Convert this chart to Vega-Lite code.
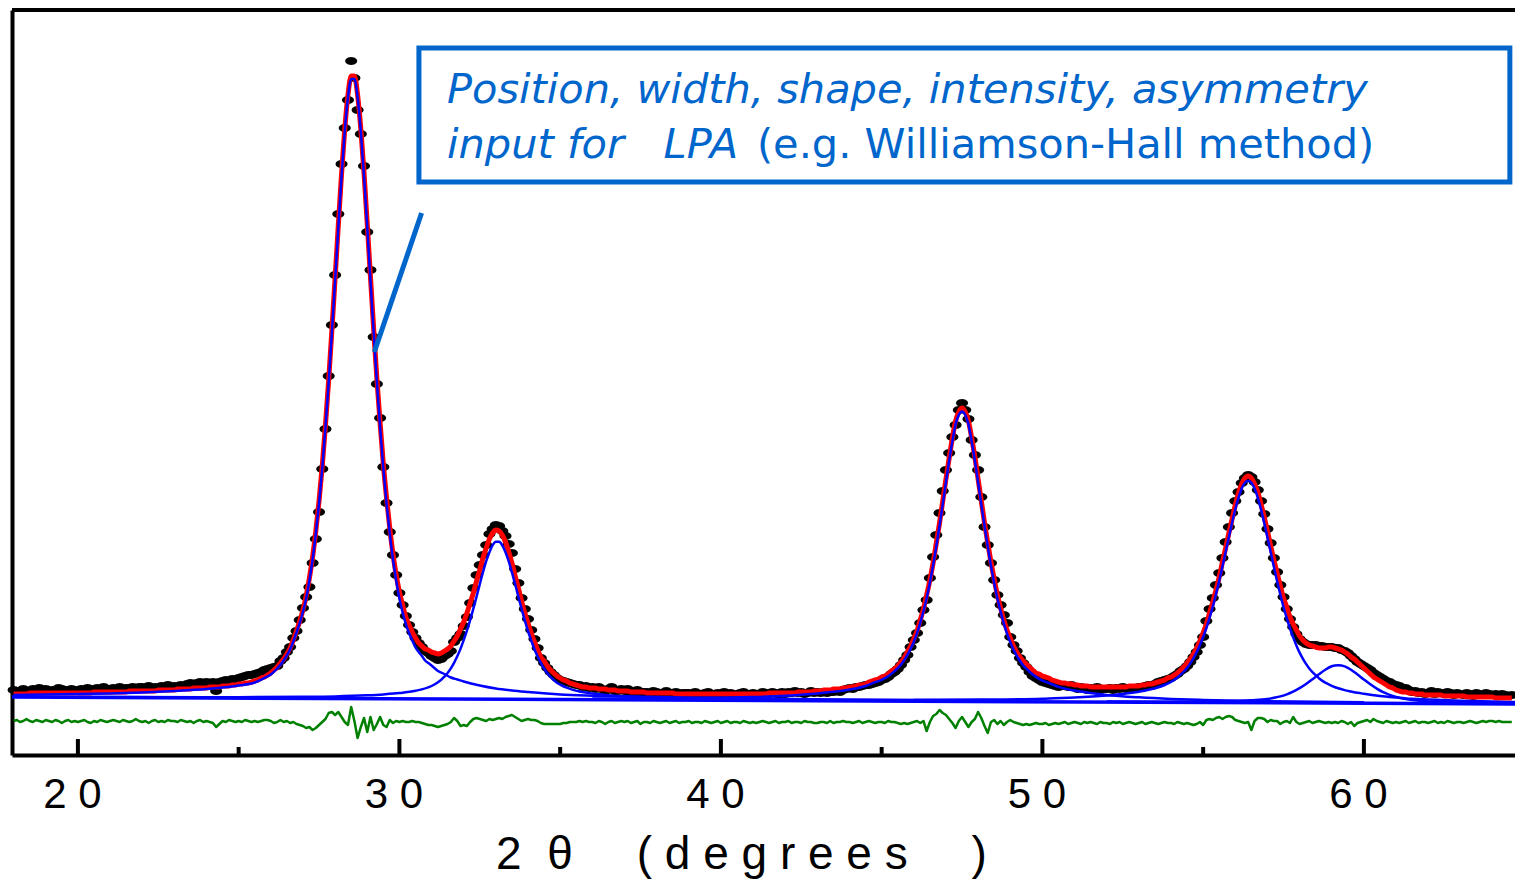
{
"$schema": "https://vega.github.io/schema/vega-lite/v6.json",
"width": 1503,
"height": 745,
"autosize": "none",
"padding": {"left": 12, "top": 10, "right": 0, "bottom": 125},
"background": "white",
"config": {"view": {"stroke": null}, "font": "Liberation Sans"},
"resolve": {"axis": {"x": "independent", "y": "independent"}},
"datasets": {
"main": [
{"x":18.0,"o":65,"f":61,"d":34},{"x":18.1,"o":64,"f":61,"d":35},{"x":18.2,"o":63,"f":61,"d":33},{"x":18.3,"o":66,"f":61,"d":34},{"x":18.4,"o":64,"f":61,"d":36},{"x":18.5,"o":64,"f":62,"d":34},{"x":18.6,"o":66,"f":62,"d":33},{"x":18.7,"o":65,"f":62,"d":35},{"x":18.8,"o":67,"f":62,"d":34},{"x":18.9,"o":64,"f":62,"d":33},
{"x":19.0,"o":66,"f":62,"d":35},{"x":19.1,"o":64,"f":62,"d":34},{"x":19.2,"o":65,"f":62,"d":33},{"x":19.3,"o":65,"f":62,"d":35},{"x":19.4,"o":67,"f":62,"d":34},{"x":19.5,"o":66,"f":62,"d":32},{"x":19.6,"o":64,"f":62,"d":34},{"x":19.7,"o":65,"f":62,"d":35},{"x":19.8,"o":66,"f":62,"d":33},{"x":19.9,"o":65,"f":62,"d":34},
{"x":20.0,"o":64,"f":62,"d":33},{"x":20.1,"o":66,"f":62,"d":34},{"x":20.2,"o":65,"f":62,"d":35},{"x":20.3,"o":67,"f":62,"d":33},{"x":20.4,"o":65,"f":62,"d":32},{"x":20.5,"o":66,"f":63,"d":34},{"x":20.6,"o":67,"f":63,"d":33},{"x":20.7,"o":65,"f":63,"d":35},{"x":20.8,"o":68,"f":63,"d":34},{"x":20.9,"o":66,"f":63,"d":33},
{"x":21.0,"o":66,"f":63,"d":34},{"x":21.1,"o":67,"f":63,"d":35},{"x":21.2,"o":65,"f":63,"d":34},{"x":21.3,"o":68,"f":63,"d":33},{"x":21.4,"o":66,"f":63,"d":35},{"x":21.5,"o":67,"f":63,"d":34},{"x":21.6,"o":67,"f":64,"d":33},{"x":21.7,"o":68,"f":64,"d":34},{"x":21.8,"o":66,"f":64,"d":36},{"x":21.9,"o":68,"f":64,"d":34},
{"x":22.0,"o":68,"f":64,"d":33},{"x":22.1,"o":67,"f":64,"d":34},{"x":22.2,"o":69,"f":64,"d":32},{"x":22.3,"o":67,"f":64,"d":34},{"x":22.4,"o":68,"f":64,"d":35},{"x":22.5,"o":67,"f":65,"d":33},{"x":22.6,"o":69,"f":65,"d":34},{"x":22.7,"o":68,"f":65,"d":33},{"x":22.8,"o":70,"f":65,"d":35},{"x":22.9,"o":68,"f":65,"d":34},
{"x":23.0,"o":69,"f":65,"d":34},{"x":23.1,"o":68,"f":66,"d":33},{"x":23.2,"o":70,"f":66,"d":35},{"x":23.3,"o":69,"f":66,"d":34},{"x":23.4,"o":71,"f":66,"d":33},{"x":23.5,"o":72,"f":66,"d":34},{"x":23.6,"o":71,"f":67,"d":32},{"x":23.7,"o":72,"f":67,"d":34},{"x":23.8,"o":73,"f":67,"d":35},{"x":23.9,"o":72,"f":67,"d":33},
{"x":24.0,"o":73,"f":67,"d":34},{"x":24.1,"o":72,"f":68,"d":33},{"x":24.2,"o":73,"f":68,"d":32},{"x":24.3,"o":64,"f":68,"d":28},{"x":24.4,"o":73,"f":68,"d":31},{"x":24.5,"o":74,"f":69,"d":34},{"x":24.6,"o":75,"f":69,"d":33},{"x":24.7,"o":74,"f":69,"d":35},{"x":24.8,"o":76,"f":70,"d":34},{"x":24.9,"o":75,"f":70,"d":33},
{"x":25.0,"o":77,"f":71,"d":34},{"x":25.1,"o":78,"f":71,"d":33},{"x":25.2,"o":79,"f":72,"d":35},{"x":25.3,"o":80,"f":72,"d":34},{"x":25.4,"o":80,"f":73,"d":33},{"x":25.5,"o":81,"f":74,"d":34},{"x":25.6,"o":82,"f":75,"d":33},{"x":25.7,"o":83,"f":77,"d":34},{"x":25.8,"o":85,"f":78,"d":35},{"x":25.9,"o":86,"f":80,"d":35},
{"x":26.0,"o":87,"f":82,"d":34},{"x":26.1,"o":88,"f":85,"d":32},{"x":26.2,"o":89,"f":88,"d":33},{"x":26.3,"o":94,"f":92,"d":35},{"x":26.4,"o":97,"f":96,"d":33},{"x":26.5,"o":103,"f":101,"d":34},{"x":26.6,"o":108,"f":107,"d":32},{"x":26.7,"o":117,"f":115,"d":33},{"x":26.8,"o":124,"f":124,"d":31},{"x":26.9,"o":135,"f":134,"d":30},
{"x":27.0,"o":147,"f":145,"d":29},{"x":27.1,"o":158,"f":159,"d":27},{"x":27.2,"o":168,"f":177,"d":28},{"x":27.3,"o":192,"f":198,"d":25},{"x":27.4,"o":216,"f":224,"d":27},{"x":27.5,"o":243,"f":254,"d":30},{"x":27.6,"o":286,"f":289,"d":33},{"x":27.7,"o":326,"f":330,"d":36},{"x":27.8,"o":379,"f":375,"d":42},{"x":27.9,"o":430,"f":425,"d":43},
{"x":28.0,"o":480,"f":477,"d":40},{"x":28.1,"o":541,"f":530,"d":43},{"x":28.2,"o":591,"f":581,"d":38},{"x":28.3,"o":627,"f":626,"d":33},{"x":28.4,"o":655,"f":660,"d":30},{"x":28.5,"o":694,"f":679,"d":48},{"x":28.6,"o":677,"f":679,"d":34},{"x":28.7,"o":645,"f":660,"d":17},{"x":28.8,"o":621,"f":626,"d":28},{"x":28.9,"o":589,"f":582,"d":37},
{"x":29.0,"o":523,"f":531,"d":23},{"x":29.1,"o":485,"f":478,"d":38},{"x":29.2,"o":418,"f":426,"d":25},{"x":29.3,"o":371,"f":376,"d":31},{"x":29.4,"o":337,"f":332,"d":38},{"x":29.5,"o":288,"f":291,"d":30},{"x":29.6,"o":252,"f":257,"d":28},{"x":29.7,"o":223,"f":227,"d":35},{"x":29.8,"o":200,"f":201,"d":32},{"x":29.9,"o":180,"f":180,"d":34},
{"x":30.0,"o":162,"f":163,"d":33},{"x":30.1,"o":150,"f":150,"d":34},{"x":30.2,"o":139,"f":138,"d":33},{"x":30.3,"o":130,"f":130,"d":33},{"x":30.4,"o":123,"f":123,"d":34},{"x":30.5,"o":117,"f":117,"d":33},{"x":30.6,"o":112,"f":112,"d":33},{"x":30.7,"o":108,"f":109,"d":32},{"x":30.8,"o":104,"f":106,"d":31},{"x":30.9,"o":102,"f":105,"d":30},
{"x":31.0,"o":99,"f":103,"d":30},{"x":31.1,"o":97,"f":102,"d":29},{"x":31.2,"o":95,"f":101,"d":28},{"x":31.3,"o":96,"f":102,"d":29},{"x":31.4,"o":99,"f":104,"d":30},{"x":31.5,"o":101,"f":106,"d":31},{"x":31.6,"o":104,"f":109,"d":33},{"x":31.7,"o":113,"f":114,"d":37},{"x":31.8,"o":117,"f":119,"d":34},{"x":31.9,"o":121,"f":126,"d":29},
{"x":32.0,"o":129,"f":133,"d":30},{"x":32.1,"o":138,"f":142,"d":29},{"x":32.2,"o":152,"f":152,"d":33},{"x":32.3,"o":167,"f":162,"d":36},{"x":32.4,"o":180,"f":174,"d":37},{"x":32.5,"o":190,"f":185,"d":36},{"x":32.6,"o":200,"f":197,"d":35},{"x":32.7,"o":210,"f":207,"d":34},{"x":32.8,"o":221,"f":216,"d":36},{"x":32.9,"o":226,"f":222,"d":35},
{"x":33.0,"o":230,"f":225,"d":36},{"x":33.1,"o":229,"f":224,"d":37},{"x":33.2,"o":224,"f":220,"d":36},{"x":33.3,"o":219,"f":213,"d":38},{"x":33.4,"o":211,"f":203,"d":39},{"x":33.5,"o":202,"f":192,"d":40},{"x":33.6,"o":186,"f":179,"d":38},{"x":33.7,"o":172,"f":167,"d":36},{"x":33.8,"o":157,"f":154,"d":34},{"x":33.9,"o":146,"f":142,"d":35},
{"x":34.0,"o":136,"f":132,"d":36},{"x":34.1,"o":125,"f":122,"d":35},{"x":34.2,"o":116,"f":113,"d":35},{"x":34.3,"o":107,"f":105,"d":34},{"x":34.4,"o":97,"f":98,"d":32},{"x":34.5,"o":92,"f":94,"d":31},{"x":34.6,"o":87,"f":89,"d":31},{"x":34.7,"o":83,"f":85,"d":31},{"x":34.8,"o":80,"f":82,"d":31},{"x":34.9,"o":77,"f":79,"d":31},
{"x":35.0,"o":75,"f":77,"d":31},{"x":35.1,"o":74,"f":75,"d":32},{"x":35.2,"o":73,"f":74,"d":32},{"x":35.3,"o":72,"f":72,"d":33},{"x":35.4,"o":71,"f":71,"d":33},{"x":35.5,"o":70,"f":70,"d":33},{"x":35.6,"o":70,"f":69,"d":34},{"x":35.7,"o":68,"f":68,"d":33},{"x":35.8,"o":69,"f":68,"d":34},{"x":35.9,"o":67,"f":67,"d":33},
{"x":36.0,"o":68,"f":67,"d":33},{"x":36.1,"o":66,"f":67,"d":32},{"x":36.2,"o":68,"f":66,"d":34},{"x":36.3,"o":66,"f":66,"d":33},{"x":36.4,"o":64,"f":66,"d":31},{"x":36.5,"o":66,"f":65,"d":33},{"x":36.6,"o":68,"f":65,"d":34},{"x":36.7,"o":64,"f":65,"d":32},{"x":36.8,"o":64,"f":64,"d":33},{"x":36.9,"o":66,"f":64,"d":34},
{"x":37.0,"o":64,"f":64,"d":33},{"x":37.1,"o":66,"f":64,"d":34},{"x":37.2,"o":62,"f":63,"d":32},{"x":37.3,"o":64,"f":63,"d":33},{"x":37.4,"o":65,"f":63,"d":34},{"x":37.5,"o":61,"f":63,"d":31},{"x":37.6,"o":63,"f":63,"d":33},{"x":37.7,"o":63,"f":62,"d":33},{"x":37.8,"o":61,"f":62,"d":32},{"x":37.9,"o":64,"f":62,"d":34},
{"x":38.0,"o":63,"f":62,"d":33},{"x":38.1,"o":61,"f":62,"d":32},{"x":38.2,"o":62,"f":62,"d":33},{"x":38.3,"o":64,"f":62,"d":34},{"x":38.4,"o":60,"f":62,"d":32},{"x":38.5,"o":62,"f":62,"d":33},{"x":38.6,"o":63,"f":61,"d":34},{"x":38.7,"o":60,"f":61,"d":32},{"x":38.8,"o":62,"f":61,"d":33},{"x":38.9,"o":62,"f":61,"d":33},
{"x":39.0,"o":62,"f":61,"d":34},{"x":39.1,"o":60,"f":61,"d":32},{"x":39.2,"o":63,"f":61,"d":33},{"x":39.3,"o":61,"f":61,"d":33},{"x":39.4,"o":60,"f":61,"d":32},{"x":39.5,"o":62,"f":61,"d":34},{"x":39.6,"o":63,"f":61,"d":33},{"x":39.7,"o":61,"f":61,"d":32},{"x":39.8,"o":59,"f":61,"d":33},{"x":39.9,"o":62,"f":61,"d":34},
{"x":40.0,"o":61,"f":61,"d":32},{"x":40.1,"o":63,"f":61,"d":33},{"x":40.2,"o":60,"f":61,"d":34},{"x":40.3,"o":62,"f":61,"d":32},{"x":40.4,"o":61,"f":61,"d":33},{"x":40.5,"o":60,"f":61,"d":33},{"x":40.6,"o":62,"f":61,"d":32},{"x":40.7,"o":63,"f":61,"d":34},{"x":40.8,"o":61,"f":61,"d":33},{"x":40.9,"o":60,"f":61,"d":32},
{"x":41.0,"o":62,"f":61,"d":33},{"x":41.1,"o":60,"f":61,"d":32},{"x":41.2,"o":61,"f":61,"d":33},{"x":41.3,"o":63,"f":61,"d":34},{"x":41.4,"o":62,"f":61,"d":33},{"x":41.5,"o":61,"f":62,"d":32},{"x":41.6,"o":63,"f":62,"d":33},{"x":41.7,"o":62,"f":62,"d":34},{"x":41.8,"o":60,"f":62,"d":32},{"x":41.9,"o":63,"f":62,"d":33},
{"x":42.0,"o":61,"f":62,"d":33},{"x":42.1,"o":63,"f":62,"d":34},{"x":42.2,"o":62,"f":62,"d":32},{"x":42.3,"o":64,"f":62,"d":33},{"x":42.4,"o":62,"f":63,"d":33},{"x":42.5,"o":63,"f":63,"d":32},{"x":42.6,"o":61,"f":63,"d":34},{"x":42.7,"o":62,"f":63,"d":33},{"x":42.8,"o":64,"f":63,"d":33},{"x":42.9,"o":62,"f":64,"d":32},
{"x":43.0,"o":63,"f":64,"d":32},{"x":43.1,"o":62,"f":64,"d":33},{"x":43.2,"o":63,"f":65,"d":33},{"x":43.3,"o":62,"f":65,"d":32},{"x":43.4,"o":63,"f":65,"d":34},{"x":43.5,"o":63,"f":66,"d":32},{"x":43.6,"o":64,"f":66,"d":33},{"x":43.7,"o":63,"f":66,"d":33},{"x":43.8,"o":65,"f":67,"d":34},{"x":43.9,"o":66,"f":67,"d":33},
{"x":44.0,"o":67,"f":68,"d":33},{"x":44.1,"o":66,"f":68,"d":32},{"x":44.2,"o":68,"f":69,"d":33},{"x":44.3,"o":68,"f":70,"d":34},{"x":44.4,"o":69,"f":70,"d":32},{"x":44.5,"o":70,"f":71,"d":33},{"x":44.6,"o":70,"f":73,"d":34},{"x":44.7,"o":71,"f":74,"d":33},{"x":44.8,"o":72,"f":75,"d":32},{"x":44.9,"o":73,"f":76,"d":33},
{"x":45.0,"o":75,"f":78,"d":33},{"x":45.1,"o":76,"f":79,"d":32},{"x":45.2,"o":78,"f":81,"d":34},{"x":45.3,"o":81,"f":84,"d":33},{"x":45.4,"o":83,"f":86,"d":33},{"x":45.5,"o":86,"f":89,"d":32},{"x":45.6,"o":90,"f":93,"d":31},{"x":45.7,"o":95,"f":97,"d":32},{"x":45.8,"o":100,"f":103,"d":31},{"x":45.9,"o":108,"f":109,"d":32},
{"x":46.0,"o":115,"f":116,"d":33},{"x":46.1,"o":122,"f":124,"d":34},{"x":46.2,"o":132,"f":135,"d":32},{"x":46.3,"o":145,"f":146,"d":34},{"x":46.4,"o":155,"f":160,"d":24},{"x":46.5,"o":177,"f":175,"d":33},{"x":46.6,"o":198,"f":192,"d":39},{"x":46.7,"o":220,"f":212,"d":41},{"x":46.8,"o":242,"f":232,"d":45},{"x":46.9,"o":264,"f":254,"d":42},
{"x":47.0,"o":285,"f":276,"d":40},{"x":47.1,"o":302,"f":297,"d":36},{"x":47.2,"o":318,"f":317,"d":32},{"x":47.3,"o":330,"f":334,"d":27},{"x":47.4,"o":345,"f":343,"d":34},{"x":47.5,"o":352,"f":347,"d":38},{"x":47.6,"o":345,"f":343,"d":33},{"x":47.7,"o":336,"f":334,"d":28},{"x":47.8,"o":315,"f":317,"d":33},{"x":47.9,"o":300,"f":298,"d":36},
{"x":48.0,"o":285,"f":276,"d":43},{"x":48.1,"o":258,"f":254,"d":37},{"x":48.2,"o":228,"f":232,"d":29},{"x":48.3,"o":210,"f":212,"d":22},{"x":48.4,"o":192,"f":193,"d":33},{"x":48.5,"o":175,"f":176,"d":35},{"x":48.6,"o":160,"f":160,"d":31},{"x":48.7,"o":150,"f":147,"d":34},{"x":48.8,"o":140,"f":135,"d":30},{"x":48.9,"o":132,"f":125,"d":33},
{"x":49.0,"o":118,"f":117,"d":35},{"x":49.1,"o":110,"f":109,"d":33},{"x":49.2,"o":104,"f":103,"d":32},{"x":49.3,"o":97,"f":98,"d":31},{"x":49.4,"o":92,"f":94,"d":30},{"x":49.5,"o":88,"f":91,"d":31},{"x":49.6,"o":83,"f":88,"d":30},{"x":49.7,"o":79,"f":85,"d":31},{"x":49.8,"o":77,"f":82,"d":32},{"x":49.9,"o":75,"f":81,"d":31},
{"x":50.0,"o":73,"f":79,"d":31},{"x":50.1,"o":72,"f":78,"d":32},{"x":50.2,"o":71,"f":77,"d":30},{"x":50.3,"o":70,"f":75,"d":31},{"x":50.4,"o":69,"f":74,"d":32},{"x":50.5,"o":68,"f":73,"d":31},{"x":50.6,"o":70,"f":72,"d":32},{"x":50.7,"o":69,"f":72,"d":33},{"x":50.8,"o":68,"f":71,"d":31},{"x":50.9,"o":70,"f":71,"d":32},
{"x":51.0,"o":68,"f":70,"d":33},{"x":51.1,"o":66,"f":70,"d":32},{"x":51.2,"o":68,"f":69,"d":31},{"x":51.3,"o":67,"f":69,"d":33},{"x":51.4,"o":65,"f":69,"d":32},{"x":51.5,"o":67,"f":68,"d":33},{"x":51.6,"o":66,"f":68,"d":32},{"x":51.7,"o":68,"f":68,"d":31},{"x":51.8,"o":65,"f":68,"d":33},{"x":51.9,"o":66,"f":68,"d":32},
{"x":52.0,"o":66,"f":68,"d":32},{"x":52.1,"o":67,"f":68,"d":31},{"x":52.2,"o":65,"f":68,"d":33},{"x":52.3,"o":67,"f":68,"d":32},{"x":52.4,"o":66,"f":68,"d":33},{"x":52.5,"o":68,"f":68,"d":31},{"x":52.6,"o":66,"f":68,"d":32},{"x":52.7,"o":65,"f":69,"d":33},{"x":52.8,"o":67,"f":69,"d":32},{"x":52.9,"o":66,"f":69,"d":31},
{"x":53.0,"o":68,"f":69,"d":32},{"x":53.1,"o":68,"f":70,"d":33},{"x":53.2,"o":69,"f":70,"d":31},{"x":53.3,"o":70,"f":71,"d":32},{"x":53.4,"o":69,"f":71,"d":33},{"x":53.5,"o":71,"f":72,"d":32},{"x":53.6,"o":73,"f":73,"d":31},{"x":53.7,"o":74,"f":74,"d":32},{"x":53.8,"o":75,"f":75,"d":33},{"x":53.9,"o":76,"f":77,"d":32},
{"x":54.0,"o":77,"f":78,"d":32},{"x":54.1,"o":79,"f":80,"d":31},{"x":54.2,"o":81,"f":82,"d":33},{"x":54.3,"o":84,"f":85,"d":32},{"x":54.4,"o":86,"f":88,"d":31},{"x":54.5,"o":89,"f":92,"d":32},{"x":54.6,"o":93,"f":96,"d":31},{"x":54.7,"o":98,"f":101,"d":30},{"x":54.8,"o":103,"f":107,"d":31},{"x":54.9,"o":110,"f":114,"d":33},
{"x":55.0,"o":118,"f":122,"d":30},{"x":55.1,"o":134,"f":131,"d":35},{"x":55.2,"o":146,"f":142,"d":36},{"x":55.3,"o":157,"f":153,"d":35},{"x":55.4,"o":170,"f":165,"d":37},{"x":55.5,"o":182,"f":178,"d":38},{"x":55.6,"o":197,"f":193,"d":36},{"x":55.7,"o":213,"f":207,"d":38},{"x":55.8,"o":228,"f":222,"d":39},{"x":55.9,"o":242,"f":236,"d":38},
{"x":56.0,"o":254,"f":250,"d":35},{"x":56.1,"o":263,"f":262,"d":34},{"x":56.2,"o":272,"f":271,"d":33},{"x":56.3,"o":277,"f":277,"d":32},{"x":56.4,"o":280,"f":279,"d":33},{"x":56.5,"o":278,"f":277,"d":25},{"x":56.6,"o":273,"f":271,"d":34},{"x":56.7,"o":265,"f":263,"d":37},{"x":56.8,"o":254,"f":251,"d":37},{"x":56.9,"o":241,"f":238,"d":36},
{"x":57.0,"o":226,"f":224,"d":33},{"x":57.1,"o":212,"f":209,"d":35},{"x":57.2,"o":197,"f":195,"d":34},{"x":57.3,"o":183,"f":182,"d":34},{"x":57.4,"o":170,"f":169,"d":31},{"x":57.5,"o":158,"f":157,"d":33},{"x":57.6,"o":146,"f":148,"d":34},{"x":57.7,"o":136,"f":138,"d":32},{"x":57.8,"o":128,"f":131,"d":38},{"x":57.9,"o":121,"f":125,"d":33},
{"x":58.0,"o":116,"f":119,"d":31},{"x":58.1,"o":113,"f":115,"d":32},{"x":58.2,"o":111,"f":112,"d":33},{"x":58.3,"o":110,"f":110,"d":34},{"x":58.4,"o":110,"f":109,"d":32},{"x":58.5,"o":110,"f":108,"d":33},{"x":58.6,"o":109,"f":107,"d":34},{"x":58.7,"o":109,"f":107,"d":33},{"x":58.8,"o":108,"f":107,"d":32},{"x":58.9,"o":108,"f":108,"d":33},
{"x":59.0,"o":108,"f":108,"d":32},{"x":59.1,"o":107,"f":107,"d":33},{"x":59.2,"o":107,"f":106,"d":32},{"x":59.3,"o":105,"f":105,"d":34},{"x":59.4,"o":104,"f":103,"d":33},{"x":59.5,"o":102,"f":101,"d":31},{"x":59.6,"o":99,"f":98,"d":33},{"x":59.7,"o":96,"f":96,"d":29},{"x":59.8,"o":93,"f":93,"d":32},{"x":59.9,"o":91,"f":90,"d":33},
{"x":60.0,"o":89,"f":87,"d":34},{"x":60.1,"o":87,"f":84,"d":35},{"x":60.2,"o":85,"f":81,"d":33},{"x":60.3,"o":82,"f":78,"d":36},{"x":60.4,"o":80,"f":76,"d":34},{"x":60.5,"o":78,"f":74,"d":33},{"x":60.6,"o":76,"f":72,"d":32},{"x":60.7,"o":74,"f":70,"d":34},{"x":60.8,"o":73,"f":68,"d":33},{"x":60.9,"o":71,"f":67,"d":32},
{"x":61.0,"o":70,"f":65,"d":33},{"x":61.1,"o":69,"f":64,"d":32},{"x":61.2,"o":66,"f":63,"d":33},{"x":61.3,"o":67,"f":63,"d":34},{"x":61.4,"o":65,"f":62,"d":32},{"x":61.5,"o":63,"f":62,"d":33},{"x":61.6,"o":64,"f":61,"d":34},{"x":61.7,"o":62,"f":61,"d":32},{"x":61.8,"o":63,"f":61,"d":33},{"x":61.9,"o":61,"f":60,"d":33},
{"x":62.0,"o":62,"f":60,"d":32},{"x":62.1,"o":64,"f":60,"d":33},{"x":62.2,"o":61,"f":60,"d":34},{"x":62.3,"o":63,"f":60,"d":32},{"x":62.4,"o":62,"f":60,"d":33},{"x":62.5,"o":61,"f":59,"d":32},{"x":62.6,"o":63,"f":59,"d":34},{"x":62.7,"o":62,"f":59,"d":33},{"x":62.8,"o":60,"f":59,"d":32},{"x":62.9,"o":62,"f":59,"d":33},
{"x":63.0,"o":61,"f":59,"d":33},{"x":63.1,"o":60,"f":59,"d":32},{"x":63.2,"o":62,"f":58,"d":33},{"x":63.3,"o":61,"f":58,"d":34},{"x":63.4,"o":59,"f":58,"d":33},{"x":63.5,"o":62,"f":58,"d":32},{"x":63.6,"o":61,"f":58,"d":33},{"x":63.7,"o":60,"f":58,"d":34},{"x":63.8,"o":62,"f":58,"d":33},{"x":63.9,"o":61,"f":58,"d":34},
{"x":64.0,"o":60,"f":58,"d":34},{"x":64.1,"o":61,"f":57,"d":33},{"x":64.2,"o":59,"f":57,"d":34},{"x":64.3,"o":61,"f":57,"d":33},{"x":64.4,"o":60,"f":57,"d":33},{"x":64.5,"o":59,"f":57,"d":33},{"x":64.6,"o":60,"f":57,"d":33}
],
"comp": [
{"x":18.0,"k":"p1","y":60},{"x":19.0,"k":"p1","y":60.5},{"x":20.0,"k":"p1","y":61},{"x":21.0,"k":"p1","y":61.5},{"x":22.0,"k":"p1","y":62.5},{"x":23.0,"k":"p1","y":64},{"x":24.0,"k":"p1","y":66},{"x":24.5,"k":"p1","y":67.5},{"x":25.0,"k":"p1","y":69.5},{"x":25.5,"k":"p1","y":72.5},{"x":25.8,"k":"p1","y":77},{"x":26.0,"k":"p1","y":80.5},{"x":26.2,"k":"p1","y":86.5},{"x":26.4,"k":"p1","y":94.5},{"x":26.6,"k":"p1","y":105.5},{"x":26.8,"k":"p1","y":122.5},{"x":27.0,"k":"p1","y":143},{"x":27.1,"k":"p1","y":156.5},{"x":27.2,"k":"p1","y":174.5},{"x":27.3,"k":"p1","y":195.5},{"x":27.4,"k":"p1","y":221.5},{"x":27.5,"k":"p1","y":251.5},{"x":27.6,"k":"p1","y":286.5},{"x":27.7,"k":"p1","y":327.5},{"x":27.8,"k":"p1","y":372.5},{"x":27.9,"k":"p1","y":422.5},{"x":28.0,"k":"p1","y":474.5},{"x":28.1,"k":"p1","y":527.5},{"x":28.2,"k":"p1","y":578.5},{"x":28.3,"k":"p1","y":623.5},{"x":28.4,"k":"p1","y":657.5},{"x":28.5,"k":"p1","y":676},{"x":28.6,"k":"p1","y":676},{"x":28.7,"k":"p1","y":657.5},{"x":28.8,"k":"p1","y":623.5},{"x":28.9,"k":"p1","y":578.5},{"x":29.0,"k":"p1","y":527.5},{"x":29.1,"k":"p1","y":474.5},{"x":29.2,"k":"p1","y":422.5},{"x":29.3,"k":"p1","y":372.5},{"x":29.4,"k":"p1","y":327.5},{"x":29.5,"k":"p1","y":286.5},{"x":29.6,"k":"p1","y":251.5},{"x":29.7,"k":"p1","y":221.5},{"x":29.8,"k":"p1","y":195.5},{"x":29.9,"k":"p1","y":174.5},{"x":30.0,"k":"p1","y":156.5},{"x":30.1,"k":"p1","y":142.5},{"x":30.2,"k":"p1","y":131},{"x":30.3,"k":"p1","y":122},{"x":30.4,"k":"p1","y":114.5},{"x":30.5,"k":"p1","y":107.5},{"x":30.6,"k":"p1","y":103},{"x":30.7,"k":"p1","y":99},{"x":30.8,"k":"p1","y":94.5},{"x":30.9,"k":"p1","y":92},{"x":31.0,"k":"p1","y":89.5},{"x":31.2,"k":"p1","y":84},{"x":31.4,"k":"p1","y":81},{"x":31.6,"k":"p1","y":77.5},{"x":31.8,"k":"p1","y":75.5},{"x":32.0,"k":"p1","y":73.5},{"x":32.5,"k":"p1","y":69.5},{"x":33.0,"k":"p1","y":66.5},{"x":33.5,"k":"p1","y":64.5},{"x":34.0,"k":"p1","y":63},{"x":35.0,"k":"p1","y":60.5},{"x":36.0,"k":"p1","y":59.3},{"x":37.0,"k":"p1","y":58.5},{"x":38.0,"k":"p1","y":57.9},{"x":40.0,"k":"p1","y":56.9},{"x":44.0,"k":"p1","y":55.5},{"x":48.0,"k":"p1","y":54.6},
{"x":20.0,"k":"p2","y":58.1},{"x":24.0,"k":"p2","y":57.8},{"x":27.0,"k":"p2","y":58.2},{"x":28.0,"k":"p2","y":58.6},{"x":29.0,"k":"p2","y":59.7},{"x":29.5,"k":"p2","y":60.6},{"x":30.0,"k":"p2","y":61.9},{"x":30.5,"k":"p2","y":64.2},{"x":31.0,"k":"p2","y":69},{"x":31.2,"k":"p2","y":72.7},{"x":31.4,"k":"p2","y":78.4},{"x":31.5,"k":"p2","y":82.1},{"x":31.6,"k":"p2","y":86.7},{"x":31.7,"k":"p2","y":92.2},{"x":31.8,"k":"p2","y":98.7},{"x":31.9,"k":"p2","y":106.1},{"x":32.0,"k":"p2","y":114.9},{"x":32.1,"k":"p2","y":124.3},{"x":32.2,"k":"p2","y":134.9},{"x":32.3,"k":"p2","y":146.4},{"x":32.4,"k":"p2","y":158.4},{"x":32.5,"k":"p2","y":170.8},{"x":32.6,"k":"p2","y":182.8},{"x":32.7,"k":"p2","y":193.8},{"x":32.8,"k":"p2","y":202.8},{"x":32.9,"k":"p2","y":209.8},{"x":33.0,"k":"p2","y":213.3},{"x":33.1,"k":"p2","y":213.2},{"x":33.2,"k":"p2","y":209.7},{"x":33.3,"k":"p2","y":202.7},{"x":33.4,"k":"p2","y":193.7},{"x":33.5,"k":"p2","y":182.7},{"x":33.6,"k":"p2","y":170.7},{"x":33.7,"k":"p2","y":158.2},{"x":33.8,"k":"p2","y":146.2},{"x":33.9,"k":"p2","y":134.7},{"x":34.0,"k":"p2","y":124},{"x":34.1,"k":"p2","y":114.6},{"x":34.2,"k":"p2","y":105.8},{"x":34.3,"k":"p2","y":98.4},{"x":34.4,"k":"p2","y":91.9},{"x":34.5,"k":"p2","y":86.4},{"x":34.6,"k":"p2","y":81.8},{"x":34.7,"k":"p2","y":78},{"x":34.8,"k":"p2","y":75},{"x":34.9,"k":"p2","y":72.3},{"x":35.0,"k":"p2","y":70.4},{"x":35.2,"k":"p2","y":67.3},{"x":35.4,"k":"p2","y":65.1},{"x":35.6,"k":"p2","y":63.5},{"x":36.0,"k":"p2","y":61.5},{"x":36.5,"k":"p2","y":59.8},{"x":37.0,"k":"p2","y":58.7},{"x":38.0,"k":"p2","y":57.2},{"x":39.0,"k":"p2","y":56.5},{"x":40.0,"k":"p2","y":55.9},{"x":42.0,"k":"p2","y":55.2},{"x":46.0,"k":"p2","y":54.3},
{"x":36.0,"k":"p3","y":56.5},{"x":38.0,"k":"p3","y":56.6},{"x":40.0,"k":"p3","y":57.3},{"x":41.0,"k":"p3","y":58},{"x":42.0,"k":"p3","y":59.3},{"x":43.0,"k":"p3","y":61.5},{"x":43.5,"k":"p3","y":63.2},{"x":44.0,"k":"p3","y":65.4},{"x":44.5,"k":"p3","y":69},{"x":44.8,"k":"p3","y":72.8},{"x":45.0,"k":"p3","y":75.2},{"x":45.2,"k":"p3","y":78.8},{"x":45.4,"k":"p3","y":83.9},{"x":45.5,"k":"p3","y":86.9},{"x":45.6,"k":"p3","y":90.4},{"x":45.7,"k":"p3","y":94.9},{"x":45.8,"k":"p3","y":100},{"x":45.9,"k":"p3","y":106},{"x":46.0,"k":"p3","y":113.3},{"x":46.1,"k":"p3","y":121.8},{"x":46.2,"k":"p3","y":132.1},{"x":46.3,"k":"p3","y":143.8},{"x":46.4,"k":"p3","y":156.8},{"x":46.5,"k":"p3","y":172.4},{"x":46.6,"k":"p3","y":189.4},{"x":46.7,"k":"p3","y":208.7},{"x":46.8,"k":"p3","y":229.2},{"x":46.9,"k":"p3","y":250.7},{"x":47.0,"k":"p3","y":272.7},{"x":47.1,"k":"p3","y":294.4},{"x":47.2,"k":"p3","y":313.6},{"x":47.3,"k":"p3","y":330.6},{"x":47.4,"k":"p3","y":340.1},{"x":47.5,"k":"p3","y":343.6},{"x":47.6,"k":"p3","y":340},{"x":47.7,"k":"p3","y":330.6},{"x":47.8,"k":"p3","y":313.5},{"x":47.9,"k":"p3","y":294.2},{"x":48.0,"k":"p3","y":272.5},{"x":48.1,"k":"p3","y":250.5},{"x":48.2,"k":"p3","y":229},{"x":48.3,"k":"p3","y":208.5},{"x":48.4,"k":"p3","y":189.1},{"x":48.5,"k":"p3","y":172},{"x":48.6,"k":"p3","y":156.4},{"x":48.7,"k":"p3","y":143.4},{"x":48.8,"k":"p3","y":131.7},{"x":48.9,"k":"p3","y":121.4},{"x":49.0,"k":"p3","y":112.9},{"x":49.1,"k":"p3","y":105.5},{"x":49.2,"k":"p3","y":99.4},{"x":49.3,"k":"p3","y":94.3},{"x":49.4,"k":"p3","y":89.8},{"x":49.5,"k":"p3","y":86.3},{"x":49.6,"k":"p3","y":83.3},{"x":49.8,"k":"p3","y":78.1},{"x":50.0,"k":"p3","y":74.4},{"x":50.2,"k":"p3","y":72},{"x":50.5,"k":"p3","y":68.1},{"x":51.0,"k":"p3","y":64.4},{"x":51.5,"k":"p3","y":62},{"x":52.0,"k":"p3","y":60.1},{"x":53.0,"k":"p3","y":57.7},{"x":54.0,"k":"p3","y":56.1},{"x":55.0,"k":"p3","y":55.1},{"x":57.0,"k":"p3","y":53.8},{"x":60.0,"k":"p3","y":52.7},
{"x":46.0,"k":"p4","y":55},{"x":48.0,"k":"p4","y":55.4},{"x":50.0,"k":"p4","y":56.3},{"x":51.0,"k":"p4","y":57.4},{"x":52.0,"k":"p4","y":59.5},{"x":52.5,"k":"p4","y":61.1},{"x":53.0,"k":"p4","y":63.3},{"x":53.5,"k":"p4","y":66.7},{"x":53.8,"k":"p4","y":70},{"x":54.0,"k":"p4","y":73},{"x":54.2,"k":"p4","y":77.5},{"x":54.4,"k":"p4","y":83.5},{"x":54.5,"k":"p4","y":87.1},{"x":54.6,"k":"p4","y":91.6},{"x":54.7,"k":"p4","y":96.9},{"x":54.8,"k":"p4","y":102.9},{"x":54.9,"k":"p4","y":110},{"x":55.0,"k":"p4","y":118},{"x":55.1,"k":"p4","y":127},{"x":55.2,"k":"p4","y":137.3},{"x":55.3,"k":"p4","y":148.3},{"x":55.4,"k":"p4","y":160.9},{"x":55.5,"k":"p4","y":174.1},{"x":55.6,"k":"p4","y":188.5},{"x":55.7,"k":"p4","y":203.1},{"x":55.8,"k":"p4","y":217.8},{"x":55.9,"k":"p4","y":232.2},{"x":56.0,"k":"p4","y":245.7},{"x":56.1,"k":"p4","y":257.3},{"x":56.2,"k":"p4","y":266.5},{"x":56.3,"k":"p4","y":272.3},{"x":56.4,"k":"p4","y":274.3},{"x":56.5,"k":"p4","y":272.3},{"x":56.6,"k":"p4","y":266.4},{"x":56.7,"k":"p4","y":257.2},{"x":56.8,"k":"p4","y":245.6},{"x":56.9,"k":"p4","y":232},{"x":57.0,"k":"p4","y":217.6},{"x":57.1,"k":"p4","y":202.9},{"x":57.2,"k":"p4","y":188.3},{"x":57.3,"k":"p4","y":173.8},{"x":57.4,"k":"p4","y":160.6},{"x":57.5,"k":"p4","y":148},{"x":57.6,"k":"p4","y":136.9},{"x":57.7,"k":"p4","y":126.7},{"x":57.8,"k":"p4","y":117.6},{"x":57.9,"k":"p4","y":109.6},{"x":58.0,"k":"p4","y":102.4},{"x":58.1,"k":"p4","y":96.4},{"x":58.2,"k":"p4","y":91.1},{"x":58.3,"k":"p4","y":86.6},{"x":58.4,"k":"p4","y":82.9},{"x":58.5,"k":"p4","y":79.8},{"x":58.6,"k":"p4","y":76.8},{"x":58.8,"k":"p4","y":72.3},{"x":59.0,"k":"p4","y":69.2},{"x":59.2,"k":"p4","y":66.7},{"x":59.4,"k":"p4","y":64.9},{"x":59.6,"k":"p4","y":63.5},{"x":59.8,"k":"p4","y":62.2},{"x":60.0,"k":"p4","y":61.2},{"x":60.5,"k":"p4","y":59.1},{"x":61.0,"k":"p4","y":57.6},{"x":61.5,"k":"p4","y":56.3},{"x":62.0,"k":"p4","y":55.6},{"x":63.0,"k":"p4","y":54.3},{"x":64.0,"k":"p4","y":53.4},{"x":64.7,"k":"p4","y":52.9},
{"x":52.0,"k":"p5","y":53.4},{"x":54.0,"k":"p5","y":53.3},{"x":55.0,"k":"p5","y":53.5},{"x":56.0,"k":"p5","y":53.9},{"x":56.5,"k":"p5","y":54.7},{"x":57.0,"k":"p5","y":56},{"x":57.2,"k":"p5","y":57.2},{"x":57.4,"k":"p5","y":58.6},{"x":57.6,"k":"p5","y":60.7},{"x":57.8,"k":"p5","y":63.4},{"x":58.0,"k":"p5","y":66.8},{"x":58.2,"k":"p5","y":71},{"x":58.4,"k":"p5","y":75.8},{"x":58.6,"k":"p5","y":80.7},{"x":58.8,"k":"p5","y":85.3},{"x":59.0,"k":"p5","y":88.7},{"x":59.1,"k":"p5","y":89.6},{"x":59.2,"k":"p5","y":89.8},{"x":59.3,"k":"p5","y":89.5},{"x":59.4,"k":"p5","y":88.6},{"x":59.6,"k":"p5","y":85.2},{"x":59.8,"k":"p5","y":80.5},{"x":60.0,"k":"p5","y":75.5},{"x":60.2,"k":"p5","y":70.7},{"x":60.4,"k":"p5","y":66.4},{"x":60.6,"k":"p5","y":62.9},{"x":60.8,"k":"p5","y":60.2},{"x":61.0,"k":"p5","y":58.1},{"x":61.2,"k":"p5","y":56.5},{"x":61.5,"k":"p5","y":55.1},{"x":62.0,"k":"p5","y":53.6},{"x":62.5,"k":"p5","y":52.9},{"x":63.0,"k":"p5","y":52.5},{"x":64.0,"k":"p5","y":51.9},{"x":64.7,"k":"p5","y":51.6}
],
"bgline": [{"x":17.95,"y":58},{"x":64.7,"y":51}],
"ticks": [{"x":20,"b":0,"l":16},{"x":25,"b":0,"l":8},{"x":30,"b":0,"l":16},{"x":35,"b":0,"l":8},{"x":40,"b":0,"l":16},{"x":45,"b":0,"l":8},{"x":50,"b":0,"l":16},{"x":55,"b":0,"l":8},{"x":60,"b":0,"l":16}]
},
"layer": [
{
"data": {"name": "main"},
"mark": {"type": "point", "shape": "M-1,0L-0.87,0.33L-0.5,0.58L0,0.67L0.5,0.58L0.87,0.33L1,0L0.87,-0.33L0.5,-0.58L0,-0.67L-0.5,-0.58L-0.87,-0.33Z", "size": 150, "filled": true, "color": "black", "opacity": 1, "strokeWidth": 0},
"encoding": {
"x": {"field": "x", "type": "quantitative", "scale": {"domain": [17.95, 64.7], "nice": false, "zero": false},
"axis": {"values": [20, 30, 40, 50, 60], "domain": true, "domainColor": "black", "domainWidth": 4, "ticks": false, "grid": false,
"labelExpr": "slice(datum.label,0,1) + ' ' + slice(datum.label,1)", "labelFont": "Liberation Sans", "labelFontSize": 42, "labelColor": "black",
"labelBaseline": "alphabetic", "labelPadding": 52, "labelOffset": -6, "labelFlush": false, "labelOverlap": false,
"title": "2\u00a0\u00a0θ\u00a0\u00a0\u00a0\u00a0\u00a0(\u00a0d\u00a0e\u00a0g\u00a0r\u00a0e\u00a0e\u00a0s\u00a0\u00a0\u00a0\u00a0\u00a0)", "titleFont": "Liberation Sans", "titleFontSize": 46, "titleFontWeight": "normal", "titleColor": "black",
"titleX": 729, "titleY": 113, "titleAlign": "center", "titleBaseline": "alphabetic", "titleAngle": 0}},
"y": {"field": "o", "type": "quantitative", "scale": {"domain": [0, 745], "nice": false, "zero": false},
"axis": {"domain": true, "domainColor": "black", "domainWidth": 4, "ticks": false, "labels": false, "grid": false, "title": null}}
}
},
{
"data": {"name": "main"},
"mark": {"type": "line", "color": "#FF0000", "strokeWidth": 5, "interpolate": "monotone", "strokeJoin": "round"},
"encoding": {
"x": {"field": "x", "type": "quantitative", "scale": {"domain": [17.95, 64.7], "nice": false, "zero": false}, "axis": null},
"y": {"field": "f", "type": "quantitative", "scale": {"domain": [0, 745], "nice": false, "zero": false}, "axis": null}
}
},
{
"data": {"name": "comp"},
"mark": {"type": "line", "color": "#0000FF", "strokeWidth": 2.5, "interpolate": "monotone"},
"encoding": {
"x": {"field": "x", "type": "quantitative", "scale": {"domain": [17.95, 64.7], "nice": false, "zero": false}, "axis": null},
"y": {"field": "y", "type": "quantitative", "scale": {"domain": [0, 745], "nice": false, "zero": false}, "axis": null},
"detail": {"field": "k", "type": "nominal"}
}
},
{
"data": {"name": "bgline"},
"mark": {"type": "line", "color": "#0000FF", "strokeWidth": 3.5},
"encoding": {
"x": {"field": "x", "type": "quantitative", "scale": {"domain": [17.95, 64.7], "nice": false, "zero": false}, "axis": null},
"y": {"field": "y", "type": "quantitative", "scale": {"domain": [0, 745], "nice": false, "zero": false}, "axis": null}
}
},
{
"data": {"name": "main"},
"mark": {"type": "line", "color": "#008000", "strokeWidth": 2.5, "strokeJoin": "round"},
"encoding": {
"x": {"field": "x", "type": "quantitative", "scale": {"domain": [17.95, 64.7], "nice": false, "zero": false}, "axis": null},
"y": {"field": "d", "type": "quantitative", "scale": {"domain": [0, 745], "nice": false, "zero": false}, "axis": null}
}
},
{
"data": {"name": "ticks"},
"mark": {"type": "rule", "color": "black", "strokeWidth": 4},
"encoding": {
"x": {"field": "x", "type": "quantitative", "scale": {"domain": [17.95, 64.7], "nice": false, "zero": false}, "axis": null},
"y": {"field": "b", "type": "quantitative", "scale": {"domain": [0, 745], "nice": false, "zero": false}, "axis": null},
"y2": {"field": "l"}
}
},
{
"data": {"values": [{"v": 745}]},
"mark": {"type": "rule", "color": "black", "strokeWidth": 4},
"encoding": {
"y": {"field": "v", "type": "quantitative", "scale": {"domain": [0, 745], "nice": false, "zero": false}, "axis": null}
}
},
{
"data": {"values": [{"x": 30.607, "x2": 64.54, "y": 707, "y2": 573}]},
"mark": {"type": "rect", "fill": "white", "stroke": "#0066CC", "strokeWidth": 5},
"encoding": {
"x": {"field": "x", "type": "quantitative", "scale": {"domain": [17.95, 64.7], "nice": false, "zero": false}, "axis": null},
"x2": {"field": "x2"},
"y": {"field": "y", "type": "quantitative", "scale": {"domain": [0, 745], "nice": false, "zero": false}, "axis": null},
"y2": {"field": "y2"}
}
},
{
"data": {"values": [{"x": 30.69, "y": 542, "x2": 29.22, "y2": 403}]},
"mark": {"type": "rule", "color": "#0066CC", "strokeWidth": 5},
"encoding": {
"x": {"field": "x", "type": "quantitative", "scale": {"domain": [17.95, 64.7], "nice": false, "zero": false}, "axis": null},
"x2": {"field": "x2"},
"y": {"field": "y", "type": "quantitative", "scale": {"domain": [0, 745], "nice": false, "zero": false}, "axis": null},
"y2": {"field": "y2"}
}
},
{
"data": {"values": [{"x": 31.48, "y": 652, "t": "Position, width, shape, intensity, asymmetry"}, {"x": 31.48, "y": 597, "t": "input for\u00a0\u00a0\u00a0LPA"}]},
"mark": {"type": "text", "align": "left", "baseline": "alphabetic", "font": "DejaVu Sans", "fontSize": 41.5, "fontStyle": "italic", "color": "#0066CC"},
"encoding": {
"x": {"field": "x", "type": "quantitative", "scale": {"domain": [17.95, 64.7], "nice": false, "zero": false}, "axis": null},
"y": {"field": "y", "type": "quantitative", "scale": {"domain": [0, 745], "nice": false, "zero": false}, "axis": null},
"text": {"field": "t"}
}
},
{
"data": {"values": [{"x": 41.12, "y": 597, "t": "(e.g. Williamson-Hall method)"}]},
"mark": {"type": "text", "align": "left", "baseline": "alphabetic", "font": "DejaVu Sans", "fontSize": 41.5, "color": "#0066CC"},
"encoding": {
"x": {"field": "x", "type": "quantitative", "scale": {"domain": [17.95, 64.7], "nice": false, "zero": false}, "axis": null},
"y": {"field": "y", "type": "quantitative", "scale": {"domain": [0, 745], "nice": false, "zero": false}, "axis": null},
"text": {"field": "t"}
}
}
]
}
